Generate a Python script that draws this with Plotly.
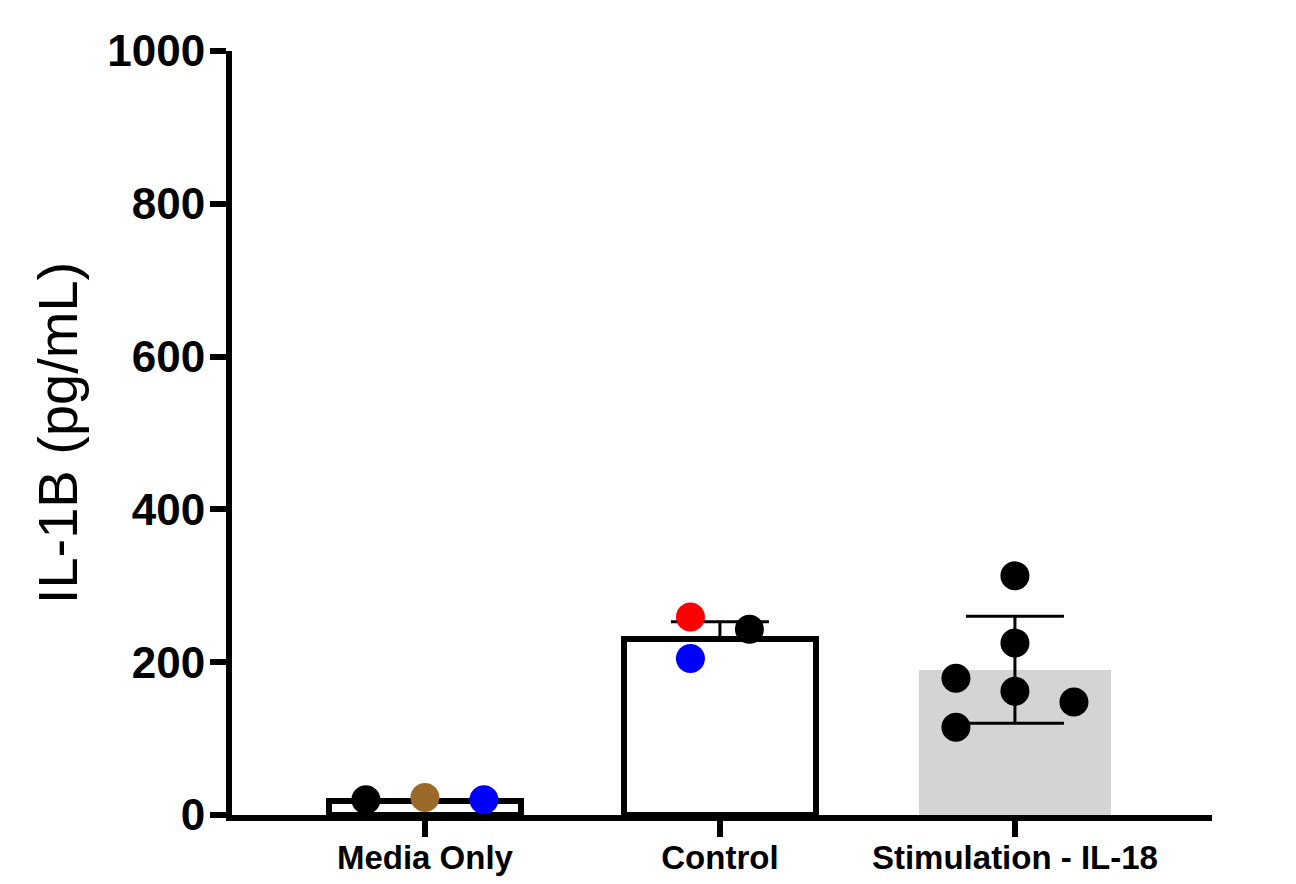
import plotly.graph_objects as go

# ---- data ----
categories = ["Media Only", "Control", "Stimulation - IL-18"]
cat_pos = [0, 1, 2]
bar_means = [18, 231, 190]
err_plus = [0, 22, 70]
err_minus = [0, 0, 70]

media_vals = [20, 23, 20]
media_offsets = [-0.2, 0.0, 0.2]
media_colors = ["#000000", "#9C6A28", "#0000FF"]

control_vals = [259, 243, 205]
control_offsets = [-0.1, 0.1, -0.1]
control_colors = ["#FF0000", "#000000", "#0000FF"]

stim_vals = [313, 225, 179, 162, 148, 115]
stim_offsets = [0.0, 0.0, -0.2, 0.0, 0.2, -0.2]
stim_colors = ["#000000"] * 6

y_ticks = [0, 200, 400, 600, 800, 1000]

FONT = "Liberation Sans, Arial, Helvetica, sans-serif"

fig = go.Figure()

fig.add_trace(go.Bar(
    x=cat_pos, y=bar_means, width=0.65,
    marker=dict(color=["white", "white", "#D4D4D4"],
                line=dict(color=["black", "black", "rgba(0,0,0,0)"], width=[6, 6, 0])),
    error_y=dict(type="data", symmetric=False, array=err_plus, arrayminus=err_minus,
                 color="black", thickness=3, width=49),
    showlegend=False, hoverinfo="skip",
))

for vals, offs, cols, c in [(media_vals, media_offsets, media_colors, 0),
                            (control_vals, control_offsets, control_colors, 1),
                            (stim_vals, stim_offsets, stim_colors, 2)]:
    fig.add_trace(go.Scatter(
        x=[cat_pos[c] + o for o in offs], y=vals, mode="markers",
        marker=dict(color=cols, size=29, line=dict(width=0)),
        showlegend=False, cliponaxis=False,
    ))

fig.update_layout(
    width=1296, height=884,
    margin=dict(l=232, r=84, t=51, b=69),
    plot_bgcolor="white", paper_bgcolor="white",
    bargap=0,
)
fig.update_xaxes(
    range=[-0.654, 2.668], tickvals=cat_pos, ticktext=categories,
    showline=True, linecolor="black", linewidth=6,
    ticks="outside", ticklen=16, tickwidth=6, tickcolor="black",
    tickfont=dict(family=FONT, size=33, color="black", weight="bold"),
    ticklabelstandoff=-8,
    showgrid=False, zeroline=False, automargin=False,
)
fig.update_yaxes(
    range=[0, 1000], tickvals=y_ticks,
    showline=True, linecolor="black", linewidth=6,
    ticks="outside", ticklen=16, tickwidth=6, tickcolor="black",
    tickfont=dict(family=FONT, size=44, color="black", weight="bold"),
    ticklabelstandoff=-4,
    title=dict(text="IL-1B (pg/mL)", font=dict(family=FONT, size=56, color="black"), standoff=14),
    showgrid=False, zeroline=False, automargin=False,
)

fig.write_html("out.html")
